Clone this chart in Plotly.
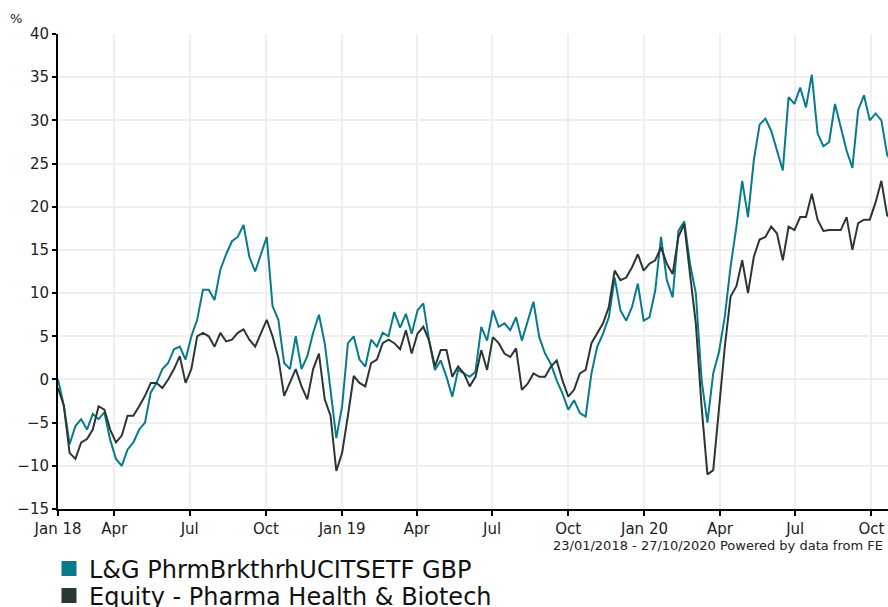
import pandas as pd
import plotly.graph_objects as go

start_date = "2018-01-23"
end_date = "2020-10-27"
series_names = ["L&G PhrmBrkthrhUCITSETF GBP", "Equity - Pharma Health & Biotech"]

fund_values = [
    0, -3, -7.5, -5.4, -4.6, -5.8, -4, -4.6, -3.8, -7,
    -9.2, -10, -8.1, -7.3, -5.8, -5, -1.5, -0.4, 1.2, 1.9,
    3.5, 3.8, 2.3, 5, 6.9, 10.4, 10.4, 9.2, 12.7, 14.5,
    16, 16.5, 17.9, 14.2, 12.5, 14.6, 16.5, 8.5, 6.9, 1.9,
    1.2, 5, 1.2, 2.7, 5.4, 7.5, 4.2, -1.2, -6.8, -3.1,
    4.2, 5, 2.3, 1.5, 4.6, 3.8, 5.4, 5, 7.8, 6,
    7.6, 5.3, 8, 8.8, 4.5, 1.1, 2.2, 0.3, -2, 1.1,
    0.7, 0.3, 0.9, 6.1, 4.5, 8, 6.1, 6.5, 5.7, 7.2,
    4.5, 6.8, 9, 4.9, 3, 1.8, -0.1, -1.6, -3.5, -2.4,
    -3.9, -4.3, 0.7, 3.8, 5.3, 7.2, 11.8, 8, 6.8, 8.4,
    11.1, 6.8, 7.2, 10.3, 16.5, 11.5, 9.5, 17.2, 18.3, 13.4,
    10, -0.1, -5, 0.7, 3.2, 7.3, 13.1, 17.7, 23, 18.8,
    25.4, 29.5, 30.2, 28.8, 26.5, 24.2, 32.7, 31.9, 33.8, 31.5,
    35.3, 28.5, 27, 27.5, 31.9, 29.2, 26.5, 24.5, 31.2, 32.9,
    30, 30.8, 30, 26, 25,
]

sector_values = [
    -1, -3, -8.5, -9.2, -7.3, -6.9, -5.8, -3.1, -3.5, -5.8,
    -7.3, -6.5, -4.2, -4.2, -3.1, -1.9, -0.4, -0.4, -1, 0,
    1.2, 2.7, -0.4, 1.2, 5, 5.4, 5, 3.8, 5.4, 4.4,
    4.6, 5.4, 5.8, 4.6, 3.8, 5.4, 6.9, 5, 2.5, -1.9,
    -0.4, 1.2, -0.8, -2.3, 1.2, 3, -2.3, -4.2, -10.6, -8.5,
    -4.2, 0.4, -0.4, -0.8, 1.9, 2.3, 4.2, 4.6, 4.2, 3.5,
    5.7, 3, 5.3, 6.1, 4.5, 1.5, 3.4, 3.4, 0.3, 1.5,
    0.7, -0.8, 0.3, 3.4, 1.1, 4.9, 4.2, 3, 2.6, 3.6,
    -1.2, -0.5, 0.7, 0.3, 0.3, 1.5, 2.2, -0.1, -2, -1.2,
    0.7, 1.1, 4.2, 5.3, 6.5, 8.4, 12.6, 11.5, 11.8, 13,
    14.5, 12.6, 13.4, 13.8, 15.3, 13.4, 12.2, 16.5, 18, 12.2,
    6.5, -3.2, -11, -10.5, -3.2, 3.8, 9.6, 10.8, 13.8, 10,
    14.2, 16.2, 16.5, 17.7, 16.9, 13.8, 17.7, 17.3, 18.8, 18.8,
    21.5, 18.5, 17.2, 17.3, 17.3, 17.3, 18.8, 15, 18.1, 18.5,
    18.5, 20.5, 23, 19, 18.5,
]

tick_dates = ["2018-01-23", "2018-04-01", "2018-07-01", "2018-10-01",
              "2019-01-01", "2019-04-01", "2019-07-01", "2019-10-01",
              "2020-01-01", "2020-04-01", "2020-07-01", "2020-10-01"]
tick_labels = ["Jan 18", "Apr", "Jul", "Oct", "Jan 19", "Apr", "Jul", "Oct",
               "Jan 20", "Apr", "Jul", "Oct"]
y_ticks = [-15, -10, -5, 0, 5, 10, 15, 20, 25, 30, 35, 40]

colors = ["#077b8c", "#2b3734"]
FONT = "DejaVu Sans, Verdana, sans-serif"

dates = pd.date_range(start_date, end_date, freq="7D")

fig = go.Figure()
for name, vals, col in zip(series_names, [fund_values, sector_values], colors):
    fig.add_trace(go.Scatter(x=dates, y=vals, mode="lines", name=name,
                             line=dict(color=col, width=2), showlegend=False,
                             hoverinfo="skip"))
legend_ids = ["legend", "legend2"]
for name, col, lid in zip(series_names, colors, legend_ids):
    fig.add_trace(go.Scatter(x=[None], y=[None], mode="markers", name=name,
                             legend=lid,
                             marker=dict(symbol="square", size=15, color=col)))

legend_style = dict(xref="container", yref="container", x=49 / 888,
                    xanchor="left", yanchor="middle",
                    font=dict(family=FONT, size=24, color="#111111"),
                    bgcolor="rgba(0,0,0,0)")

fig.update_layout(
    width=888, height=607,
    margin=dict(l=58, r=0, t=34, b=98, autoexpand=False),
    paper_bgcolor="white", plot_bgcolor="white",
    font=dict(family=FONT, size=15, color="#222222"),
    showlegend=True,
    legend=dict(legend_style, y=1 - 569 / 607),
    legend2=dict(legend_style, y=1 - 596 / 607),
    xaxis=dict(type="date", range=["2018-01-23", "2020-10-21"],
               tickmode="array", tickvals=tick_dates, ticktext=tick_labels,
               showgrid=True, gridcolor="#efefef", gridwidth=2,
               showline=True, linecolor="#000000", linewidth=2,
               ticks="outside", ticklen=5, tickwidth=2, tickcolor="#000000",
               tickfont=dict(size=15), zeroline=False, automargin=False),
    yaxis=dict(range=[-15, 40], tickmode="array", tickvals=y_ticks,
               showgrid=True, gridcolor="#efefef", gridwidth=2,
               showline=True, linecolor="#000000", linewidth=2,
               ticks="outside", ticklen=4, tickwidth=2, tickcolor="#000000",
               tickfont=dict(size=15), zeroline=False, automargin=False),
    annotations=[
        dict(text="%", xref="paper", yref="paper", x=(8 - 58) / 830, y=1 + 6 / 475,
             xanchor="left", yanchor="bottom", showarrow=False,
             font=dict(family=FONT, size=13, color="#222222")),
        dict(text="23/01/2018 - 27/10/2020 Powered by data from FE",
             xref="paper", yref="paper", x=(551 - 58) / 830, y=-(536 - 509) / 475,
             xanchor="left", yanchor="top", showarrow=False,
             font=dict(family=FONT, size=13, color="#222222")),
    ],
)

fig.write_html("out.html", config={"displayModeBar": False},
               post_script="document.body.style.margin='0';document.body.style.overflow='hidden';")
